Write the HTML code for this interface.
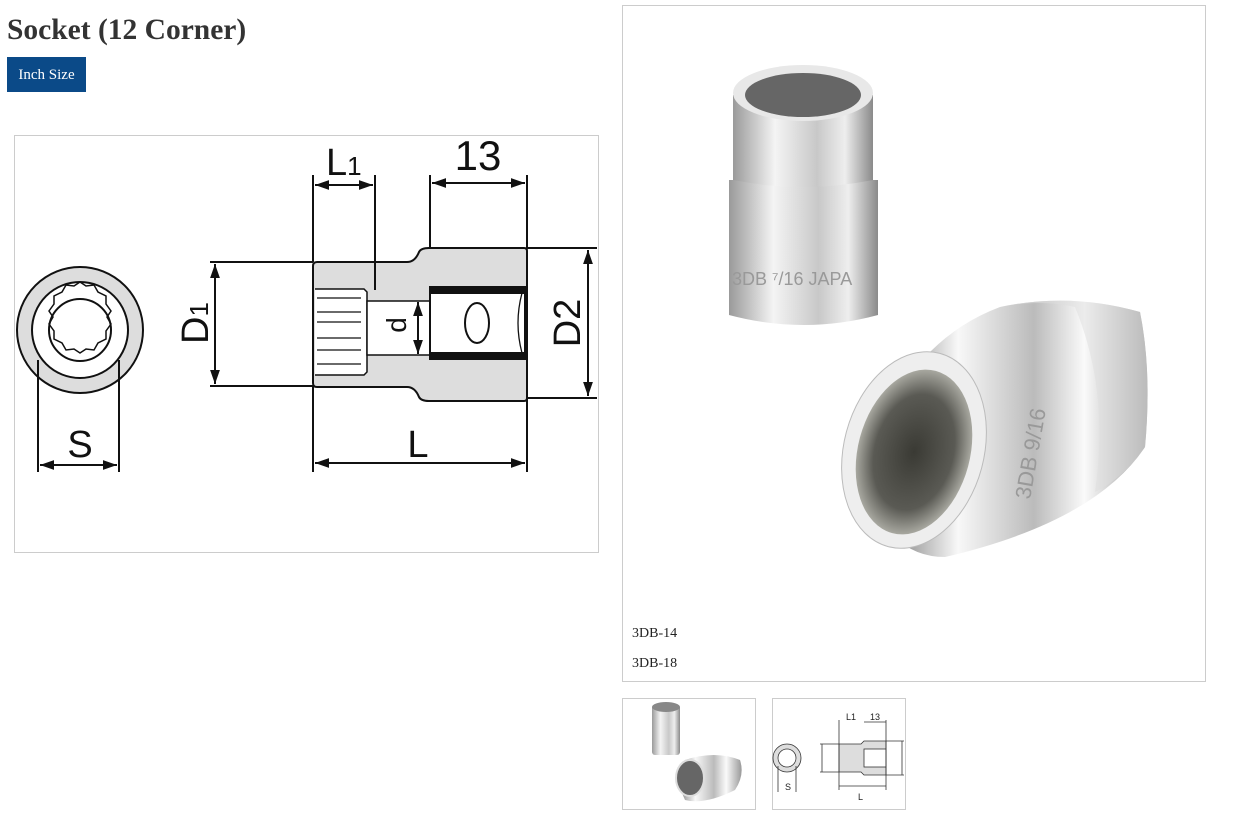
<!DOCTYPE html>
<html><head><meta charset="utf-8"><style>
body{margin:0;background:#fff;width:1243px;height:821px;position:relative;font-family:"Liberation Serif",serif;overflow:hidden}
.a{position:absolute}
</style></head><body>
<div class="a" style="left:7px;top:14px;font-size:29.5px;font-weight:bold;color:#333">Socket (12 Corner)</div>
<div class="a" style="left:7px;top:57px;width:79px;height:35px;background:#0b4a88;color:#fff;font-size:15px;line-height:37px;text-align:center">Inch Size</div>
<div class="a" style="left:14px;top:135px;width:583px;height:416px;border:1px solid #ccc"></div>
<svg class="a" style="left:0;top:0" width="1243" height="821">
<defs>
<marker id="ar" viewBox="0 0 10 10" refX="10" refY="5" markerWidth="7" markerHeight="7" orient="auto-start-reverse"><path d="M0,1.5L10,5L0,8.5z" fill="#111"/></marker>
<linearGradient id="sv" x1="0" x2="1"><stop offset="0" stop-color="#9a9a9a"/><stop offset=".3" stop-color="#f4f4f4"/><stop offset=".6" stop-color="#c8c8c8"/><stop offset=".8" stop-color="#eee"/><stop offset="1" stop-color="#8a8a8a"/></linearGradient>
<linearGradient id="sv2" x1="0" x2="1"><stop offset="0" stop-color="#888"/><stop offset=".25" stop-color="#f8f8f8"/><stop offset=".55" stop-color="#bbb"/><stop offset=".75" stop-color="#fafafa"/><stop offset="1" stop-color="#999"/></linearGradient>
<radialGradient id="hole"><stop offset="0" stop-color="#3a3a34"/><stop offset=".7" stop-color="#5a5a54"/><stop offset="1" stop-color="#a8a8a0"/></radialGradient>
</defs>
<g stroke="#111" stroke-width="2" fill="none">
<circle cx="80" cy="330" r="63" fill="#ddd"/>
<circle cx="80" cy="330" r="48" fill="#fff"/>
<path d="M80,282 l6,4 l8,-1 l4,7 l8,4 l0,8 l5,7 l-4,6 l4,7 l-5,7 l0,8 l-8,4 l-4,7 l-8,-1 l-6,4 l-6,-4 l-8,1 l-4,-7 l-8,-4 l0,-8 l-5,-7 l4,-7 l-4,-6 l5,-7 l0,-8 l8,-4 l4,-7 l8,1z" stroke-width="1.5"/>
<circle cx="80" cy="330" r="31"/>
<line x1="38" y1="360" x2="38" y2="472"/><line x1="119" y1="360" x2="119" y2="472"/>
<line x1="40" y1="465" x2="117" y2="465" marker-start="url(#ar)" marker-end="url(#ar)"/>
<path d="M313,266 q0,-4 4,-4 h90 q8,0 12,-10 q2,-4 10,-4 h95 q3,0 3,3 v147 q0,3 -3,3 h-95 q-8,0 -10,-4 q-4,-10 -12,-10 h-90 q-4,0 -4,-4z" fill="#ddd"/>
<path d="M315,289 h49 l3,3 v80 l-3,3 h-49" fill="#fff" stroke-width="1.5"/>
<g stroke-width="1.3"><line x1="317" y1="298" x2="361" y2="298"/><line x1="317" y1="312" x2="361" y2="312"/><line x1="317" y1="322" x2="361" y2="322"/><line x1="317" y1="338" x2="361" y2="338"/><line x1="317" y1="350" x2="361" y2="350"/><line x1="317" y1="364" x2="361" y2="364"/></g>
<rect x="367" y="301" width="63" height="54" fill="#fff" stroke-width="1.5"/>
<rect x="430" y="287" width="95" height="72" fill="#fff"/>
<rect x="430" y="287" width="95" height="6" fill="#111"/>
<rect x="430" y="353" width="95" height="6" fill="#111"/>
<ellipse cx="477" cy="323" rx="12" ry="20"/>
<path d="M522,293 q-8,30 0,60" stroke-width="1.3"/>
<line x1="313" y1="175" x2="313" y2="262"/><line x1="375" y1="175" x2="375" y2="290"/>
<line x1="315" y1="185" x2="373" y2="185" marker-start="url(#ar)" marker-end="url(#ar)"/>
<line x1="430" y1="175" x2="430" y2="248"/><line x1="527" y1="175" x2="527" y2="248"/>
<line x1="432" y1="183" x2="525" y2="183" marker-start="url(#ar)" marker-end="url(#ar)"/>
<line x1="210" y1="262" x2="313" y2="262"/><line x1="210" y1="386" x2="313" y2="386"/>
<line x1="215" y1="264" x2="215" y2="384" marker-start="url(#ar)" marker-end="url(#ar)"/>
<line x1="527" y1="248" x2="597" y2="248"/><line x1="527" y1="398" x2="597" y2="398"/>
<line x1="588" y1="250" x2="588" y2="396" marker-start="url(#ar)" marker-end="url(#ar)"/>
<line x1="418" y1="302" x2="418" y2="354" marker-start="url(#ar)" marker-end="url(#ar)"/>
<line x1="313" y1="386" x2="313" y2="472"/><line x1="527" y1="398" x2="527" y2="472"/>
<line x1="315" y1="463" x2="525" y2="463" marker-start="url(#ar)" marker-end="url(#ar)"/>
</g>
<g font-family="Liberation Sans,sans-serif" fill="#111">
<text x="80" y="457" font-size="38" text-anchor="middle">S</text>
<text x="418" y="457" font-size="38" text-anchor="middle">L</text>
<text x="326" y="175" font-size="38">L<tspan font-size="26">1</tspan></text>
<text x="478" y="170" font-size="42" text-anchor="middle">13</text>
<text transform="translate(208,323) rotate(-90)" font-size="38" text-anchor="middle">D<tspan font-size="26">1</tspan></text>
<text transform="translate(580,323) rotate(-90)" font-size="38" text-anchor="middle">D2</text>
<text transform="translate(406,325) rotate(-90)" font-size="28" text-anchor="middle">d</text>
</g>
<rect x="622.5" y="5.5" width="583" height="676" fill="#fff" stroke="#ccc"/>
<path d="M729,180 h149 v135 q-74,20 -149,0z" fill="url(#sv)"/>
<path d="M733,95 h140 v85 q-70,14 -140,0z" fill="url(#sv)"/>
<ellipse cx="803" cy="93" rx="70" ry="28" fill="#e8e8e8"/>
<ellipse cx="803" cy="95" rx="58" ry="22" fill="#666"/>
<text x="732" y="285" font-family="Liberation Sans,sans-serif" font-size="18" fill="#999">3DB ⁷/16 JAPA</text>
<path d="M930,352 q30,-30 70,-45 q70,-15 140,5 q12,60 5,135 q-50,75 -200,110 q-30,0 -50,-20z" fill="url(#sv2)"/>
<path d="M1000,307 q70,-15 140,5 q12,60 5,135 q-20,30 -50,45 q15,-100 -20,-185 q-35,-8 -75,0z" fill="#ddd" opacity=".5"/>
<ellipse cx="914" cy="450" rx="70" ry="100" transform="rotate(15 914 450)" fill="#eee" stroke="#bbb"/>
<ellipse cx="914" cy="452" rx="56" ry="84" transform="rotate(15 914 452)" fill="url(#hole)"/>
<text transform="translate(1030,500) rotate(-80)" font-family="Liberation Sans,sans-serif" font-size="22" fill="#999">3DB 9/16</text>
<text x="632" y="637" font-size="14" fill="#222">3DB-14</text>
<text x="632" y="667" font-size="14" fill="#222">3DB-18</text>
<rect x="622.5" y="698.5" width="133" height="111" fill="#fff" stroke="#ccc"/>
<rect x="652" y="705" width="28" height="50" rx="3" fill="url(#sv)"/>
<ellipse cx="666" cy="707" rx="14" ry="5" fill="#888"/>
<path d="M685,760 q30,-10 55,0 q5,15 -5,30 q-30,15 -50,10 q-10,-20 0,-40z" fill="url(#sv2)"/>
<ellipse cx="690" cy="778" rx="14" ry="18" fill="#666" stroke="#ddd" stroke-width="2"/>
<rect x="772.5" y="698.5" width="133" height="111" fill="#fff" stroke="#ccc"/>
<g stroke="#333" stroke-width="0.8" fill="none">
<circle cx="787" cy="758" r="14" fill="#ddd"/><circle cx="787" cy="758" r="9" fill="#fff"/>
<path d="M839,744 h22 l3,-3 h22 v34 h-22 l-3,-3 h-22z" fill="#ddd"/>
<rect x="864" y="749" width="22" height="18" fill="#fff"/>
<line x1="839" y1="720" x2="839" y2="790"/><line x1="886" y1="720" x2="886" y2="790"/>
<line x1="839" y1="786" x2="886" y2="786"/><line x1="864" y1="722" x2="886" y2="722"/>
<line x1="820" y1="744" x2="839" y2="744"/><line x1="820" y1="772" x2="839" y2="772"/><line x1="822" y1="744" x2="822" y2="772"/>
<line x1="886" y1="741" x2="904" y2="741"/><line x1="886" y1="775" x2="904" y2="775"/><line x1="902" y1="741" x2="902" y2="775"/>
<line x1="778" y1="766" x2="778" y2="792"/><line x1="796" y1="766" x2="796" y2="792"/>
</g>
<g font-family="Liberation Sans,sans-serif" font-size="9" fill="#222">
<text x="846" y="720">L1</text><text x="870" y="720">13</text><text x="858" y="800">L</text><text x="785" y="790">S</text>
</g>
</svg>
</body></html>
